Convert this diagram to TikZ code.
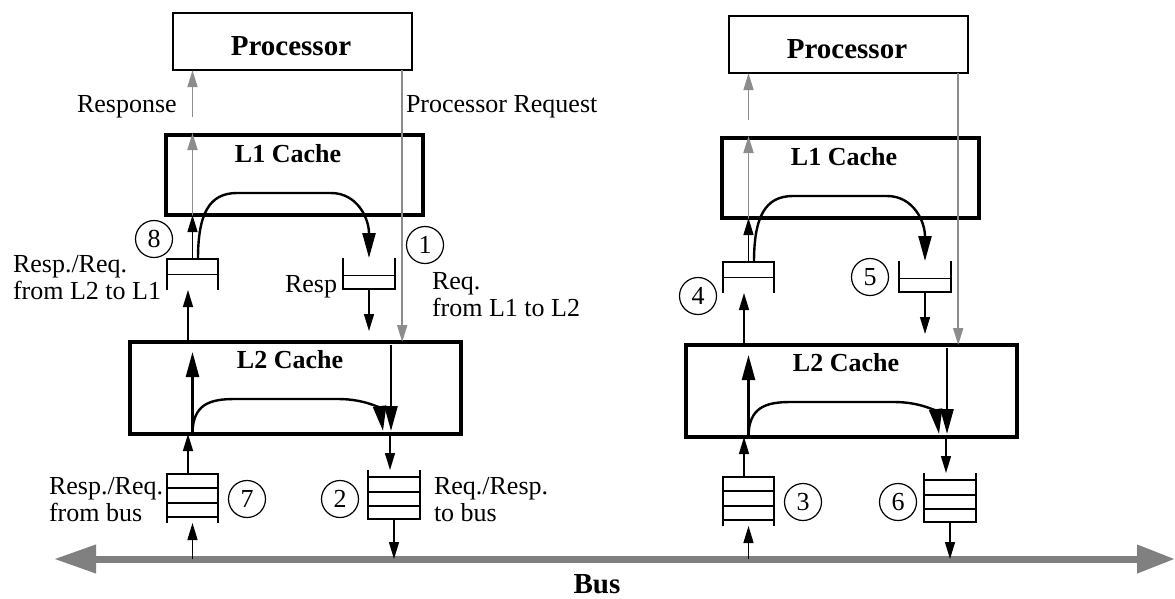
\documentclass[tikz,border=0pt]{standalone}
\usepackage{fontspec}
\setmainfont{Liberation Serif}
\usetikzlibrary{arrows.meta,calc}
\definecolor{busgray}{RGB}{128,128,128}
\definecolor{linegray}{RGB}{140,140,140}
\newcommand\fsreg{\fontsize{26}{27}\selectfont}
\newcommand\fsproc{\bfseries\fontsize{29}{30}\selectfont}
\newcommand\fscache{\bfseries\fontsize{26}{27}\selectfont}
\tikzset{
  procbox/.style={draw, line width=1.6pt, minimum width=239.4pt, minimum height=57.4pt, inner sep=0, outer sep=0},
  cachebox/.style={draw, line width=4pt, inner sep=0, outer sep=0},
  qshape/.style={inner sep=0, outer sep=0, minimum width=51pt},
  qline/.style={line width=1.8pt},
  qinner/.style={line width=1.2pt},
  tarr/.style={line width=1.4pt, -{Triangle[length=17pt,width=10pt]}},
  karr/.style={line width=2.4pt, -{Triangle[length=25pt,width=13pt]}},
  garr/.style={line width=1.8pt, color=linegray, -{Triangle[length=17pt,width=10pt]}},
  busarr/.style={line width=7pt, color=busgray, {Triangle[length=42pt,width=27pt]}-{Triangle[length=38pt,width=27pt]}},
  numc/.style={circle, draw, line width=1.2pt, minimum size=37pt, inner sep=0, font=\fsreg},
  txt/.style={inner sep=0, outer sep=0, font=\fsreg, align=left},
}
% one processor / L1 / L2 stack, drawn in the frame of the left one
\newcommand\halfstack[1]{%
  \node[procbox] (#1proc) at (292.5,41.5) {};
  \node[txt, font=\fsproc, anchor=base] (#1proct) at (291,55) {Processor};
  \node[cachebox, minimum width=257pt, minimum height=80pt] (#1l1) at (294.5,175) {};
  \node[txt, font=\fscache, anchor=base] (#1l1t) at (288,162) {L1 Cache};
  \node[cachebox, minimum width=331pt, minimum height=92pt] (#1l2) at (295.5,388) {};
  \node[txt, font=\fscache, anchor=base] (#1l2t) at (290,368) {L2 Cache};
  % queues
  \node[qshape, minimum height=31pt] (#1qa) at (192.5,274.5) {};
  \node[qshape, minimum width=52pt, minimum height=31pt] (#1qb) at (369,273.5) {};
  \node[qshape, minimum height=49pt] (#1qc) at (192.5,498.5) {};
  \node[qshape, minimum width=52pt, minimum height=49pt] (#1qd) at (394,494.5) {};
  \draw[qline] (#1qa.south west) -- (#1qa.north west) -- (#1qa.north east) -- (#1qa.south east);
  \draw[qinner] (#1qa.west) -- (#1qa.east);
  \draw[qline] (#1qb.north west) -- (#1qb.south west) -- (#1qb.south east) -- (#1qb.north east);
  \draw[qinner] ($(#1qb.west)+(0,2)$) -- ($(#1qb.east)+(0,2)$);
  \draw[qline] (#1qc.south west) -- (#1qc.north west) -- (#1qc.north east) -- (#1qc.south east);
  \foreach \d in {14,29,43} \draw[qinner] ($(#1qc.north west)+(0,\d)$) -- ($(#1qc.north east)+(0,\d)$);
  \draw[qline] (#1qd.north west) -- (#1qd.south west) -- (#1qd.south east) -- (#1qd.north east);
  \foreach \d in {13,27,42} \draw[qinner] ($(#1qd.south west)+(0,-\d)$) -- ($(#1qd.south east)+(0,-\d)$);
  % gray response and request paths
  \coordinate (#1rsp) at (192.5,117);
  \draw[garr] (#1qa.north) -- ($(#1l1.north -| #1qa.north)+(0,-2)$);
  \draw[garr] (#1rsp) -- (#1proc.south -| #1rsp);
  \draw[garr] ($(#1proc.south east)+(-10,0)$) -- ($(#1l2.north -| #1proc.south east)+(-10,0)$);
  % L1 level
  \draw[tarr] (#1qa.north) -- (#1l1.south -| #1qa.north);
  \draw[karr] ($(#1qa.north)+(5.5,0)$) .. controls +(0,-45) and +(-28,0) .. (237,193) -- (331,193)
     .. controls +(26,0) and +(0,-40) .. (#1qb.north);
  \draw[tarr] ($(#1l2.north -| #1qa.south)+(-4.5,0)$) -- ($(#1qa.south)+(-4.5,0)$);
  \draw[tarr, shorten >=11pt] (#1qb.south) -- (#1l2.north -| #1qb.south);
  % L2 level
  \draw[karr, shorten >=10pt] (#1l2.south -| #1qa.north) -- (#1l2.north -| #1qa.north);
  \draw[karr] (#1l2.south -| #1qa.north) .. controls +(0,-30) and +(-25,0) .. (235,399) -- (338,399)
     .. controls +(28,0) and +(-3,-22) .. ($(#1l2.south -| #1qd.north)+(-11,-3)$);
  \draw[karr] ($(#1l2.north -| #1qd.north)+(-3,3)$) -- ($(#1l2.south -| #1qd.north)+(-3,-3)$);
  \draw[tarr] ($(#1l2.south -| #1qd.north)+(-4,0)$) -- ($(#1qd.north)+(-4,0)$);
  \draw[tarr] ($(#1qc.north)+(-4.5,0)$) -- ($(#1l2.south -| #1qc.north)+(-4.5,0)$);
  % bus level
  \draw[tarr] (#1qc.south |- busL) -- (#1qc.south);
  \draw[tarr] (#1qd.south) -- (#1qd.south |- busL);
}
\begin{document}
\begin{tikzpicture}[x=1pt, y=-1pt]
  \useasboundingbox (0,0) rectangle (1175,598);
  % bus
  \coordinate (busL) at (54,559);
  \coordinate (busR) at (1175,559);
  \draw[busarr] (busL) -- (busR);
  \node[txt, font=\fsproc, anchor=base] (buslab) at (597,593) {Bus};
  % two stacks
  \begin{scope}
    \halfstack{L}
  \end{scope}
  \begin{scope}[shift={(556,3)}]
    \halfstack{R}
  \end{scope}
  % numbered circles
  \node[numc] (c8) at (154,239) {8};
  \node[numc] (c1) at (425,245) {1};
  \node[numc] (c7) at (247,499) {7};
  \node[numc] (c2) at (340,499) {2};
  \node[numc] (c4) at (698,296) {4};
  \node[numc] (c5) at (870,277) {5};
  \node[numc] (c3) at (803,502) {3};
  \node[numc] (c6) at (898,502) {6};
  % labels
  \node[txt, anchor=base west] (tresp) at (77,112) {Response};
  \node[txt, anchor=base west] (treq) at (406,112) {Processor Request};
  \node[txt, anchor=north west] (tqa) at (13,255) {Resp./Req.\\from L2 to L1};
  \node[txt, anchor=base east] (tqb) at (337,292) {Resp};
  \node[txt, anchor=north west] (tqb2) at (432,272) {Req.\\from L1 to L2};
  \node[txt, anchor=north west] (tqc) at (49,477) {Resp./Req.\\from bus};
  \node[txt, anchor=north west] (tqd) at (434,477) {Req./Resp.\\to bus};
\end{tikzpicture}
\end{document}
